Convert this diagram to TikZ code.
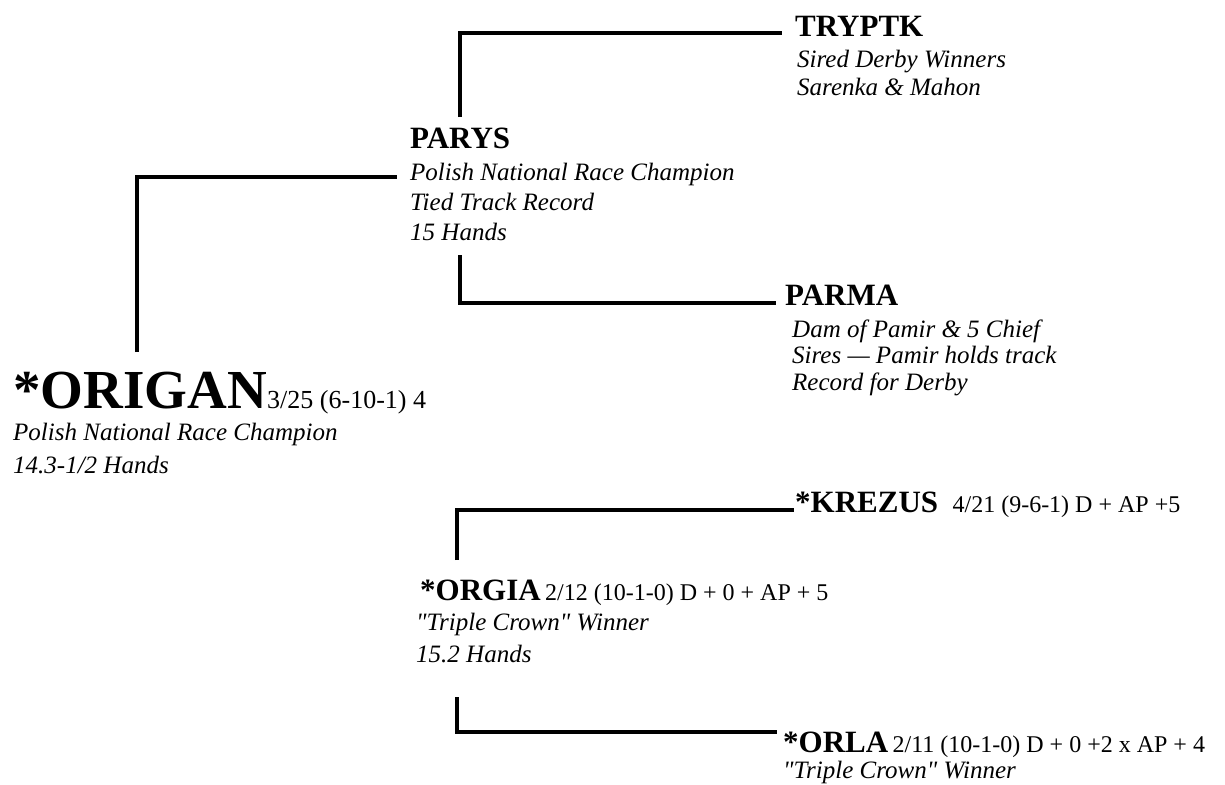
\documentclass[tikz,border=0pt]{standalone}
\usepackage{fontspec}
\setmainfont{Liberation Serif}[Ligatures=TeXOff]
\usetikzlibrary{positioning}

\begin{document}
\begin{tikzpicture}[x=1pt,y=-1pt,inner sep=0pt,anchor=base west,
  title/.style={font=\bfseries\fontsize{31}{34}\selectfont},
  sire/.style={font=\bfseries\fontsize{55}{60}\selectfont},
  stats/.style={font=\fontsize{24}{28}\selectfont},
  bigstats/.style={font=\fontsize{26}{30}\selectfont},
  info/.style={font=\itshape\fontsize{25}{30}\selectfont},
  bracket/.style={line width=4pt}]

\useasboundingbox (0,0) rectangle (1225,784);

\node[title] (tryptk)  at (795,37)  {TRYPTK};
\node[info]  (tryptk1) at (797,67)  {Sired Derby Winners};
\node[info]  (tryptk2) at (797,95)  {Sarenka \& Mahon};

\node[title] (parys)  at (410,148) {PARYS};
\node[info]  (parys1) at (410,180) {Polish National Race Champion};
\node[info]  (parys2) at (410,210) {Tied Track Record};
\node[info]  (parys3) at (410,240) {15 Hands};

\node[title] (parma)  at (785,305) {PARMA};
\node[info]  (parma1) at (792,337) {Dam of Pamir \& 5 Chief};
\node[info]  (parma2) at (792,363) {Sires — Pamir holds track};
\node[info]  (parma3) at (792,390) {Record for Derby};

\node[sire]  (origan) at (13,408) {*ORIGAN};
\node[bigstats, base right=0pt of origan] (origanstats) {3/25 (6-10-1) 4};
\node[info]  (origan1) at (13,440) {Polish National Race Champion};
\node[info]  (origan2) at (13,473) {14.3-1/2 Hands};

\node[title] (krezus) at (795,512) {*KREZUS};
\node[stats, base right=14pt of krezus] (krezusstats) {4/21 (9-6-1) D + AP +5};

\node[title] (orgia)  at (420,600) {*ORGIA};
\node[stats, base right=4pt of orgia] (orgiastats) {2/12 (10-1-0) D + 0 + AP + 5};
\node[info]  (orgia1) at (416,630) {"Triple Crown" Winner};
\node[info]  (orgia2) at (416,662) {15.2 Hands};

\node[title] (orla)   at (783,752) {*ORLA};
\node[stats, base right=4pt of orla] (orlastats) {2/11 (10-1-0) D + 0 +2 x AP + 4};
\node[info]  (orla1)  at (783,778) {"Triple Crown" Winner};

\coordinate (origanbar) at (137,352);
\coordinate (parysbar)  at (460,117);
\coordinate (parmabar)  at (460,255);
\coordinate (krezusbar) at (457,560);
\coordinate (orlabar)   at (457,697);

\draw[bracket] (origanbar) |- ([xshift=-13pt,yshift=3pt]parys1.base west);
\draw[bracket] (parysbar)  |- ([xshift=-13pt,yshift=4pt]tryptk.base west);
\draw[bracket] (parmabar)  |- ([xshift=-9pt,yshift=2pt]parma.base west);
\draw[bracket] (krezusbar) |- ([xshift=-1pt,yshift=2pt]krezus.base west);
\draw[bracket] (orlabar)   |- ([xshift=-6pt,yshift=20pt]orla.base west);

\end{tikzpicture}
\end{document}
